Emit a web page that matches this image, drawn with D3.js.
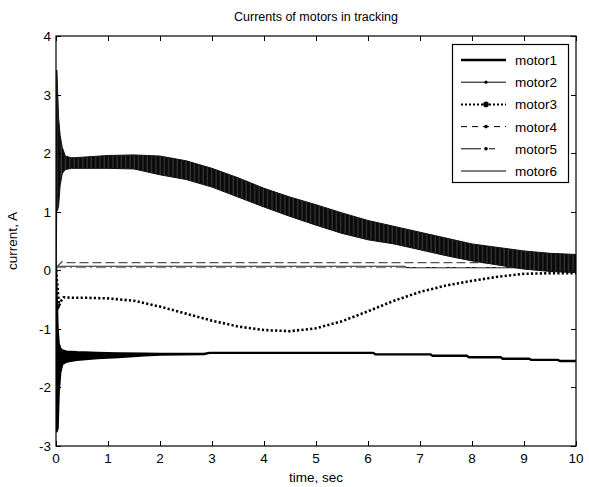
<!DOCTYPE html>
<html>
<head>
<meta charset="utf-8">
<script src="https://cdn.jsdelivr.net/npm/d3@7"></script>
<style>
  html, body { margin: 0; padding: 0; background: #fff; }
  svg { display: block; font-family: Arial, "Liberation Sans", sans-serif; }
</style>
</head>
<body>
<svg id="chart" width="589" height="487"></svg>
<script>
// ---- data ----
const xTicks = [0, 1, 2, 3, 4, 5, 6, 7, 8, 9, 10];
const yTicks = [-3, -2, -1, 0, 1, 2, 3, 4];
const seriesNames = ["motor1", "motor2", "motor3", "motor4", "motor5", "motor6"];

// motor1: thick trace, noisy start then slow stepwise drift
const motor1T  = [0, 0.01, 0.03, 0.05, 0.08, 0.12, 0.2, 0.4, 0.8, 1.2, 1.7, 2.0, 2.85, 2.95, 6.1, 6.14, 7.2, 7.24, 7.9, 7.94, 8.55, 8.59, 9.1, 9.14, 9.65, 9.69, 10];
const motor1Hi = [0.05, -0.4, -1.0, -1.25, -1.33, -1.37, -1.39, -1.40, -1.41, -1.42, -1.425, -1.43, -1.43, -1.41, -1.41, -1.435, -1.435, -1.46, -1.46, -1.485, -1.485, -1.51, -1.51, -1.53, -1.53, -1.55, -1.55];
const motor1Lo = [-1.2, -2.75, -2.7, -2.1, -1.75, -1.6, -1.56, -1.53, -1.50, -1.48, -1.45, -1.44, -1.43, -1.41, -1.41, -1.435, -1.435, -1.46, -1.46, -1.485, -1.485, -1.51, -1.51, -1.53, -1.53, -1.55, -1.55];

// motor2: fast oscillation, given by its upper and lower envelope
const motor2T  = [0, 0.015, 0.03, 0.05, 0.08, 0.12, 0.18, 0.3, 0.5, 1, 1.5, 2, 2.5, 3, 3.5, 4, 4.5, 5, 5.5, 6, 6.5, 7, 7.5, 8, 8.5, 9, 9.5, 10];
const motor2Hi = [0.1, 3.42, 3.1, 2.6, 2.3, 2.1, 1.95, 1.92, 1.93, 1.96, 1.97, 1.95, 1.87, 1.74, 1.58, 1.40, 1.25, 1.12, 0.98, 0.85, 0.75, 0.65, 0.55, 0.45, 0.39, 0.33, 0.29, 0.27];
const motor2Lo = [0.0, 1.05, 1.02, 1.1, 1.45, 1.65, 1.72, 1.74, 1.74, 1.74, 1.73, 1.63, 1.55, 1.42, 1.25, 1.08, 0.92, 0.77, 0.63, 0.52, 0.45, 0.35, 0.25, 0.16, 0.09, 0.02, -0.02, -0.04];

// motor3: dotted trace dipping to about -1 A
const motor3T = [0, 0.03, 0.06, 0.1, 0.15, 0.3, 0.6, 1, 1.5, 2, 2.5, 3, 3.5, 4, 4.5, 5, 5.5, 6, 6.5, 7, 7.5, 8, 8.5, 9, 9.5, 10];
const motor3V = [0, -0.3, -0.6, -0.52, -0.46, -0.47, -0.47, -0.48, -0.52, -0.62, -0.74, -0.86, -0.96, -1.02, -1.04, -0.99, -0.87, -0.70, -0.52, -0.37, -0.26, -0.18, -0.11, -0.06, -0.05, -0.05];

// motor4: dashed, nearly constant
const motor4T = [0, 0.05, 0.12, 0.2, 10];
const motor4V = [0.05, 0.09, 0.15, 0.13, 0.13];

// motor5: dash-dot, nearly constant
const motor5T = [0, 10];
const motor5V = [0.045, 0.045];

// motor6: thin solid, small step near 6.7 s
const motor6T = [0, 6.7, 6.75, 10];
const motor6V = [0.07, 0.07, 0.045, 0.045];

// ---- layout ----
const svg = d3.select("#chart");
const margin = { left: 56, right: 13, top: 36, bottom: 41 };
const W = 589, H = 487;
const x = d3.scaleLinear().domain([0, 10]).range([margin.left, W - margin.right]);
const y = d3.scaleLinear().domain([-3, 4]).range([H - margin.bottom, margin.top]);

svg.append("rect").attr("width", W).attr("height", H).attr("fill", "#fff");

const defs = svg.append("defs");
defs.append("clipPath").attr("id", "plotclip")
  .append("rect")
  .attr("x", x(0)).attr("y", y(4))
  .attr("width", x(10) - x(0)).attr("height", y(-3) - y(4));

// texture for the dense oscillation: black with faint vertical slits
const pat = defs.append("pattern").attr("id", "osc")
  .attr("patternUnits", "userSpaceOnUse")
  .attr("width", 4.3).attr("height", 9)
  .attr("patternTransform", "skewY(-8)");
pat.append("rect").attr("width", 4.3).attr("height", 9).attr("fill", "#0a0a0a");
pat.append("line").attr("x1", 1).attr("x2", 1).attr("y1", 0).attr("y2", 9)
  .attr("stroke", "#6a6a6a").attr("stroke-width", 0.6);

const plot = svg.append("g").attr("clip-path", "url(#plotclip)");

const zip = (ts, vs) => ts.map((t, i) => [t, vs[i]]);
const line = d3.line().x(d => x(d[0])).y(d => y(d[1]));
const band = d3.area()
  .x(d => x(d.t)).y0(d => y(d.lo)).y1(d => y(d.hi));

// motor6 (thin solid)
plot.append("path").attr("d", line(zip(motor6T, motor6V)))
  .attr("fill", "none").attr("stroke", "#222").attr("stroke-width", 1.1);

// motor5 (dash-dot)
plot.append("path").attr("d", line(zip(motor5T, motor5V)))
  .attr("fill", "none").attr("stroke", "#777").attr("stroke-width", 1)
  .attr("stroke-dasharray", "10,4,2,4");

// motor4 (dashed)
plot.append("path").attr("d", line(zip(motor4T, motor4V)))
  .attr("fill", "none").attr("stroke", "#555").attr("stroke-width", 1.4)
  .attr("stroke-dasharray", "9,4");

// motor3 (heavy dotted)
plot.append("path").attr("d", line(zip(motor3T, motor3V)))
  .attr("fill", "none").attr("stroke", "#000").attr("stroke-width", 2.6)
  .attr("stroke-dasharray", "2.2,2.2");

// motor1 (thick, with noisy start)
const m1 = motor1T.map((t, i) => ({ t, hi: motor1Hi[i], lo: motor1Lo[i] }));
plot.append("path").attr("d", band(m1))
  .attr("fill", "#000").attr("stroke", "#000").attr("stroke-width", 2.4)
  .attr("stroke-linejoin", "round");

// motor2 (oscillating band)
const m2 = motor2T.map((t, i) => ({ t, hi: motor2Hi[i], lo: motor2Lo[i] }));
plot.append("path").attr("d", band(m2))
  .attr("fill", "url(#osc)").attr("stroke", "#111").attr("stroke-width", 1);

// ---- axes (ticks inside, box all round) ----
const tickLen = 5;
const axisG = svg.append("g").attr("font-size", 13.5).attr("fill", "#000");

svg.append("rect")
  .attr("x", x(0)).attr("y", y(4))
  .attr("width", x(10) - x(0)).attr("height", y(-3) - y(4))
  .attr("fill", "none").attr("stroke", "#000").attr("stroke-width", 1.2);

xTicks.forEach(v => {
  const px = Math.round(x(v)) + 0.5;
  axisG.append("line").attr("x1", px).attr("x2", px)
    .attr("y1", y(-3)).attr("y2", y(-3) - tickLen).attr("stroke", "#000");
  axisG.append("line").attr("x1", px).attr("x2", px)
    .attr("y1", y(4)).attr("y2", y(4) + tickLen).attr("stroke", "#000");
  axisG.append("text").attr("x", x(v)).attr("y", y(-3) + 17)
    .attr("text-anchor", "middle").text(String(v));
});

yTicks.forEach(v => {
  const py = Math.round(y(v)) + 0.5;
  axisG.append("line").attr("x1", x(0)).attr("x2", x(0) + tickLen)
    .attr("y1", py).attr("y2", py).attr("stroke", "#000");
  axisG.append("line").attr("x1", x(10)).attr("x2", x(10) - tickLen)
    .attr("y1", py).attr("y2", py).attr("stroke", "#000");
  axisG.append("text").attr("x", x(0) - 5).attr("y", y(v) + 5)
    .attr("text-anchor", "end").text(String(v));
});

// ---- titles ----
svg.append("text").attr("x", (x(0) + x(10)) / 2).attr("y", 21)
  .attr("text-anchor", "middle").attr("font-size", 12.5).text("Currents of motors in tracking");
svg.append("text").attr("x", (x(0) + x(10)) / 2).attr("y", 482)
  .attr("text-anchor", "middle").attr("font-size", 13.5).text("time, sec");
svg.append("text")
  .attr("transform", `translate(17,${(y(4) + y(-3)) / 2}) rotate(-90)`)
  .attr("text-anchor", "middle").attr("font-size", 13.5).text("current, A");

// ---- legend ----
const lg = svg.append("g");
lg.append("rect").attr("x", 452.5).attr("y", 44.5).attr("width", 116).attr("height", 138)
  .attr("fill", "#fff").attr("stroke", "#000").attr("stroke-width", 1.2);

const legendStyles = [
  { w: 2.6, dash: null, marker: 0 },
  { w: 1, dash: null, marker: 1.6 },
  { w: 2, dash: "2,2", marker: 2.8 },
  { w: 1, dash: "6,5", marker: 1.8 },
  { w: 1, dash: "20,8,6,30", marker: 1.8 },
  { w: 1, dash: null, marker: 0 }
];
seriesNames.forEach((name, i) => {
  const cy = 60 + i * 22.2;
  const s = legendStyles[i];
  const l = lg.append("line").attr("x1", 461).attr("x2", 506)
    .attr("y1", cy).attr("y2", cy).attr("stroke", "#000").attr("stroke-width", s.w);
  if (s.dash) l.attr("stroke-dasharray", s.dash);
  if (s.marker) lg.append("circle").attr("cx", 486).attr("cy", cy).attr("r", s.marker).attr("fill", "#000");
  lg.append("text").attr("x", 515).attr("y", cy + 5).attr("font-size", 13.5).text(name);
});
</script>
</body>
</html>
